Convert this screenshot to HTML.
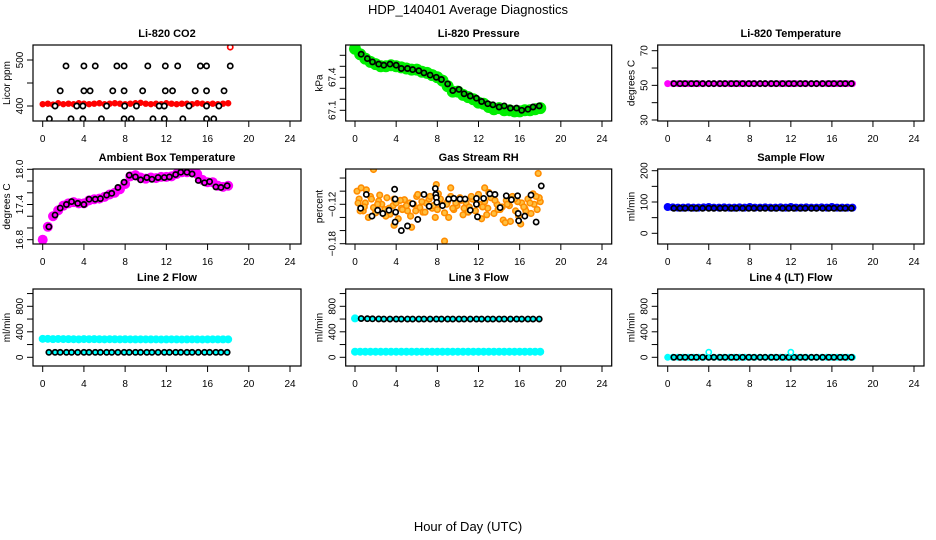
<!DOCTYPE html>
<html><head><meta charset="utf-8"><style>
html,body{margin:0;padding:0;background:#fff;}
svg{display:block;font-family:"Liberation Sans",sans-serif;}
</style></head><body>
<svg id="chart" width="936" height="540" viewBox="0 0 936 540" xmlns="http://www.w3.org/2000/svg">
<rect width="936" height="540" fill="#fff"/>
<text x="468" y="14" font-size="13" text-anchor="middle">HDP_140401  Average Diagnostics</text>
<text x="468" y="531" font-size="13" text-anchor="middle">Hour of Day (UTC)</text>
</svg>
<script>
const xTicks = [0,4,8,12,16,20,24];
const hoursC = [0,0.5,1,1.5,2,2.5,3,3.5,4,4.5,5,5.5,6,6.5,7,7.5,8,8.5,9,9.5,10,10.5,11,11.5,12,12.5,13,13.5,14,14.5,15,15.5,16,16.5,17,17.5,18];
const hoursB = [0.6,1.2,1.7,2.3,2.8,3.4,4.0,4.5,5.1,5.6,6.2,6.7,7.3,7.9,8.4,9.0,9.5,10.1,10.6,11.2,11.8,12.3,12.9,13.4,14.0,14.5,15.1,15.7,16.2,16.8,17.3,17.9];

const co2Red = [404,405,403,406,404,405,404,406,405,404,405,406,404,405,406,405,404,405,406,407,405,404,405,404,406,405,404,405,405,404,406,405,404,405,404,405,406];
const co2OutHours = [18.2];
const co2OutVals = [528];
const co2BlackHours = [2.26,4.0,5.1,7.2,7.9,10.2,11.9,13.1,15.3,15.9,18.2, 1.7,4.0,4.6,6.8,7.9,9.7,11.9,12.6,14.8,15.9,17.6, 1.2,3.3,3.9,6.2,7.95,9.1,11.3,11.8,14.2,15.9,17.1, 0.65,2.75,3.9,5.7,7.9,8.6,10.7,11.8,13.6,15.9,16.6];
const co2BlackVals = [487,487,487,487,487,487,487,487,487,487,487, 433,433,433,433,433,433,433,433,433,433,433, 400,400,400,400,400,400,400,400,400,400,400, 372,372,372,372,372,372,372,372,372,372,372];

const presGreen = [67.66,67.61,67.57,67.54,67.52,67.50,67.50,67.51,67.50,67.49,67.48,67.47,67.47,67.45,67.44,67.42,67.40,67.37,67.32,67.27,67.27,67.24,67.22,67.20,67.17,67.16,67.13,67.11,67.12,67.10,67.10,67.09,67.09,67.10,67.10,67.11,67.12];
const presBlack = [67.61,67.57,67.54,67.52,67.51,67.52,67.51,67.48,67.48,67.47,67.46,67.44,67.42,67.40,67.38,67.34,67.28,67.29,67.25,67.23,67.21,67.18,67.16,67.15,67.13,67.14,67.12,67.12,67.10,67.11,67.13,67.14];

const tempMag = [51,51,51,51,51,51,51,51,51,51,51,51,51,51,51,51,51,51,51,51,51,51,51,51,51,51,51,51,51,51,51,51,51,51,51,51,51];
const tempBlack = [51,51,51,51,51,51,51,51,51,51,51,51,51,51,51,51,51,51,51,51,51,51,51,51,51,51,51,51,51,51,51,51];

const ambMag = [16.80,17.02,17.20,17.30,17.38,17.42,17.44,17.42,17.42,17.47,17.49,17.50,17.53,17.57,17.60,17.66,17.75,17.88,17.90,17.86,17.84,17.86,17.85,17.87,17.87,17.88,17.92,17.95,17.95,17.95,17.92,17.82,17.78,17.78,17.72,17.70,17.72];
const ambBlack = [17.02,17.22,17.34,17.40,17.45,17.42,17.40,17.49,17.49,17.50,17.56,17.59,17.69,17.78,17.90,17.87,17.82,17.86,17.83,17.86,17.86,17.87,17.91,17.95,17.95,17.92,17.81,17.77,17.79,17.70,17.69,17.72];

const rhOrangeHours = [0.2,0.4,0.6,0.8,1.0,1.3,1.5,1.8,2.0,2.3,2.6,2.9,3.1,3.4,3.7,4.0,4.2,4.5,4.8,5.1,5.4,5.7,6.0,6.3,6.6,6.9,7.2,7.5,7.8,8.1,8.4,8.7,9.0,9.3,9.6,9.9,10.2,10.5,10.8,11.1,11.4,11.7,12.0,12.3,12.6,12.9,13.2,13.5,13.8,14.1,14.4,14.7,15.0,15.3,15.6,15.9,16.2,16.5,16.8,17.1,17.4,17.7,18.0, 0.5,1.1,2.2,3.0,3.8,4.6,5.3,6.1,6.8,7.6,8.3,9.1,9.8,10.6,11.3,12.1,12.8,13.6,14.3,15.1,15.8,16.6,17.3,17.9, 1.8,8.7,17.8,7.9,9.3,3.8,16.1,12.6,5.5,14.6, 0.3,0.9,1.6,2.4,3.3,4.4,5.0,5.9,6.5,7.3,8.0,8.9,9.5,10.3,11.0,11.8,12.4,13.0,13.9,14.8,15.5,16.4,17.0,17.6];
const rhOrangeVals = [-0.100,-0.112,-0.095,-0.130,-0.118,-0.140,-0.108,-0.125,-0.133,-0.115,-0.120,-0.128,-0.110,-0.135,-0.122,-0.118,-0.142,-0.126,-0.113,-0.130,-0.138,-0.120,-0.108,-0.125,-0.132,-0.118,-0.112,-0.126,-0.140,-0.104,-0.120,-0.133,-0.116,-0.108,-0.128,-0.122,-0.110,-0.136,-0.118,-0.124,-0.112,-0.130,-0.105,-0.142,-0.116,-0.126,-0.110,-0.134,-0.120,-0.128,-0.144,-0.114,-0.122,-0.108,-0.130,-0.138,-0.118,-0.126,-0.112,-0.134,-0.120,-0.128,-0.116, -0.130,-0.098,-0.120,-0.138,-0.112,-0.128,-0.118,-0.105,-0.132,-0.122,-0.112,-0.140,-0.118,-0.126,-0.108,-0.120,-0.136,-0.114,-0.124,-0.146,-0.116,-0.130,-0.104,-0.110, -0.067,-0.176,-0.073,-0.090,-0.095,-0.152,-0.150,-0.095,-0.155,-0.148, -0.118,-0.124,-0.112,-0.106,-0.126,-0.114,-0.122,-0.130,-0.116,-0.108,-0.128,-0.120,-0.126,-0.114,-0.132,-0.118,-0.124,-0.102,-0.128,-0.120,-0.112,-0.124,-0.118,-0.108];
const rhBlackHours = [0.55,1.1,1.65,2.2,2.7,3.3,3.85,3.9,3.95,3.9,4.5,5.1,5.6,6.1,6.7,7.2,7.8,7.85,7.9,7.95,8.5,9.1,9.6,10.2,10.7,11.2,11.8,11.8,11.9,12.5,13.1,13.6,14.1,14.7,15.2,15.8,15.85,15.9,16.5,17.1,17.6,18.1];
const rhBlackVals = [-0.126,-0.105,-0.138,-0.129,-0.134,-0.129,-0.097,-0.112,-0.132,-0.147,-0.160,-0.153,-0.119,-0.143,-0.105,-0.123,-0.096,-0.105,-0.110,-0.117,-0.122,-0.112,-0.111,-0.112,-0.112,-0.129,-0.111,-0.120,-0.139,-0.111,-0.104,-0.105,-0.125,-0.107,-0.113,-0.107,-0.134,-0.145,-0.138,-0.106,-0.147,-0.092];

const sfBlue = [84,83,82,82,83,82,82,83,84,82,82,83,82,82,83,82,84,82,82,83,82,82,83,82,84,82,82,83,82,82,83,82,84,82,82,82,82];
const sfBlack = [80,80,80,80,80,80,80,80,80,80,80,80,80,80,80,80,80,80,80,80,80,80,80,80,80,80,80,80,80,80,80,80];

const l2Cyan = [290,290,285,288,286,285,284,282,286,284,285,283,282,284,283,282,283,282,281,282,282,281,282,280,281,282,281,280,281,282,281,280,281,282,281,281,282];
const l2Black = [78,78,78,78,78,78,78,78,78,78,78,78,78,78,78,78,78,78,78,78,78,78,78,78,78,78,78,78,78,78,78,78];
const l3Cyan = [88,88,88,88,88,88,88,88,88,88,88,88,88,88,88,88,88,88,88,88,88,88,88,88,88,88,88,88,88,88,88,88,88,88,88,88,88];
const l3CyanHiHours = [0];
const l3CyanHiVals = [610];
const l3Black = [608,605,603,602,600,600,600,600,600,600,600,600,600,600,600,600,600,600,600,600,600,600,600,600,600,600,600,600,600,600,600,600];
const l4Cyan = [0,0,0,0,0,0,0,0,0,0,0,0,0,0,0,0,0,0,0,0,0,0,0,0,0,0,0,0,0,0,0,0,0,0,0,0,0];
const l4CyanHiHours = [4.0,12.0];
const l4CyanHiVals = [80,80];
const l4Black = [0,0,0,0,0,0,0,0,0,0,0,0,0,0,0,0,0,0,0,0,0,0,0,0,0,0,0,0,0,0,0,0];

const NS = 'http://www.w3.org/2000/svg';
const svg = document.getElementById('chart');
const cols = [{l:33,r:301,x0:42.7,x24:290},{l:345.7,r:611.7,x0:355,x24:602},{l:657.7,r:924,x0:667.7,x24:914}];
const rows = [{t:45,b:121},{t:169,b:244},{t:289,b:366}];
let clipN = 0;

function mk(tag, attrs, parent, name) {
  const el = document.createElementNS(NS, tag);
  for (const k in attrs) el.setAttribute(k, attrs[k]);
  
  
  (parent || svg).appendChild(el);
  return el;
}

function panel(ci, ri, title, ylab, v1, y1, v2, y2, yTicks, yLabels) {
  const c = cols[ci], r = rows[ri];
  const g = mk('g', {}, svg, 'panel-' + title.toLowerCase().replace(/[^a-z0-9]+/g,'-'));
  const xs = t => c.x0 + t * (c.x24 - c.x0) / 24;
  const ys = v => y1 + (v - v1) * (y2 - y1) / (v2 - v1);
  mk('text', {x:(c.l+c.r)/2, y:r.t-8, 'font-size':11, 'font-weight':'bold', 'text-anchor':'middle'}, g, 'panel-title').textContent = title;
  const lt = mk('text', {x:0, y:0, 'font-size':10, 'text-anchor':'middle', transform:`translate(${c.l-23},${(r.t+r.b)/2}) rotate(-90)`}, g, 'y-axis-title');
  lt.textContent = ylab;
  const id = 'clip' + (clipN++);
  const cp = mk('clipPath', {id:id}, g, 'plot-clip');
  mk('rect', {x:c.l, y:r.t, width:c.r-c.l, height:r.b-r.t}, cp, 'plot-clip-rect');
  const plot = mk('g', {'clip-path':`url(#${id})`}, g, 'plot-area');
  mk('rect', {x:c.l, y:r.t, width:c.r-c.l, height:r.b-r.t, fill:'none', stroke:'#000', 'stroke-width':1.2}, g, 'plot-box');
  xTicks.forEach(t => {
    mk('line', {x1:xs(t), x2:xs(t), y1:r.b, y2:r.b+6, stroke:'#000'}, g, 'x-tick');
    mk('text', {x:xs(t), y:r.b+21, 'font-size':10, 'text-anchor':'middle'}, g, 'x-tick-label').textContent = t;
  });
  yTicks.forEach((v,i) => {
    mk('line', {x1:c.l-6, x2:c.l, y1:ys(v), y2:ys(v), stroke:'#000'}, g, 'y-tick');
    if (yLabels[i] !== '') {
      mk('text', {x:0, y:0, 'font-size':10, 'text-anchor':'middle', transform:`translate(${c.l-10},${ys(v)}) rotate(-90)`}, g, 'y-tick-label').textContent = yLabels[i];
    }
  });
  return {plot, xs, ys};
}

function band(p, hrs, vals, color, rad, name) {
  hrs.forEach((t,i) => mk('circle', {cx:p.xs(t), cy:p.ys(vals[i]), r:rad, fill:color}, p.plot, name));
}
function ring(p, hrs, vals, fill, name) {
  hrs.forEach((t,i) => mk('circle', {cx:p.xs(t), cy:p.ys(vals[i]), r:2.6, fill:fill, stroke:'#000', 'stroke-width':1.7}, p.plot, name));
}

let p;
p = panel(0,0,'Li-820 CO2','Licor ppm',400,106,500,60,[400,450,500],['400','','500']);
band(p, hoursC, co2Red, '#ff0000', 3.2, 'co2-red-point');
ring(p, co2OutHours, co2OutVals, '#fff', 'co2-outlier');
p.plot.lastChild.setAttribute('stroke', '#f00');
ring(p, co2BlackHours, co2BlackVals, '#fff', 'co2-black-point');

p = panel(1,0,'Li-820 Pressure','kPa',67.1,110.3,67.4,77.3,[67.1,67.2,67.3,67.4,67.5,67.6],['67.1','','','67.4','','']);
band(p, hoursC, presGreen, '#00ee00', 6, 'pressure-green-point');
ring(p, hoursB, presBlack, '#00cc00', 'pressure-black-point');

p = panel(2,0,'Li-820 Temperature','degrees C',30,120,70,50.7,[30,40,50,60,70],['30','','50','','70']);
band(p, hoursC, tempMag, '#ff00ff', 3.5, 'temp-magenta-point');
ring(p, hoursB, tempBlack, '#ff00ff', 'temp-black-point');

p = panel(0,1,'Ambient Box Temperature','degrees C',16.8,239.7,18.0,169.3,[16.8,17.0,17.2,17.4,17.6,17.8,18.0],['16.8','','','17.4','','','18.0']);
band(p, hoursC, ambMag, '#ff00ff', 5, 'ambient-magenta-point');
ring(p, hoursB, ambBlack, '#ff00ff', 'ambient-black-point');

p = panel(1,1,'Gas Stream RH','percent',-0.18,243.7,-0.12,204.3,[-0.18,-0.16,-0.14,-0.12,-0.10,-0.08],['\u22120.18','','','\u22120.12','','']);
rhOrangeHours.forEach((t,i) => mk('circle', {cx:p.xs(t), cy:p.ys(rhOrangeVals[i]), r:2.8, fill:'#ffc040', stroke:'#ff8c00', 'stroke-width':1.6}, p.plot, 'rh-orange-point'));
ring(p, rhBlackHours, rhBlackVals, '#fff', 'rh-black-point');

p = panel(2,1,'Sample Flow','ml/min',0,233.3,200,170.7,[0,50,100,150,200],['0','','100','','200']);
band(p, hoursC, sfBlue, '#0000ff', 4, 'sample-flow-blue-point');
ring(p, hoursB, sfBlack, '#0000ff', 'sample-flow-black-point');

p = panel(0,2,'Line 2 Flow','ml/min',0,357.3,800,306.3,[0,200,400,600,800,1000],['0','','400','','800','']);
band(p, hoursC, l2Cyan, '#00ffff', 4, 'line2-cyan-point');
ring(p, hoursB, l2Black, '#00ffff', 'line2-black-point');

p = panel(1,2,'Line 3 Flow','ml/min',0,357.3,800,306.3,[0,200,400,600,800,1000],['0','','400','','800','']);
band(p, hoursC, l3Cyan, '#00ffff', 4, 'line3-cyan-point');
band(p, l3CyanHiHours, l3CyanHiVals, '#00ffff', 4, 'line3-cyan-high-point');
ring(p, hoursB, l3Black, '#00ffff', 'line3-black-point');

p = panel(2,2,'Line 4 (LT) Flow','ml/min',0,357.3,800,306.3,[0,200,400,600,800,1000],['0','','400','','800','']);
band(p, hoursC, l4Cyan, '#00ffff', 3.5, 'line4-cyan-point');
ring(p, hoursB, l4Black, '#00ffff', 'line4-black-point');
l4CyanHiHours.forEach((t,i) => mk('circle', {cx:p.xs(t), cy:p.ys(l4CyanHiVals[i]), r:2.6, fill:'#fff', stroke:'#00ffff', 'stroke-width':1.6}, p.plot, 'line4-cyan-high-point'));
</script>
</body></html>
